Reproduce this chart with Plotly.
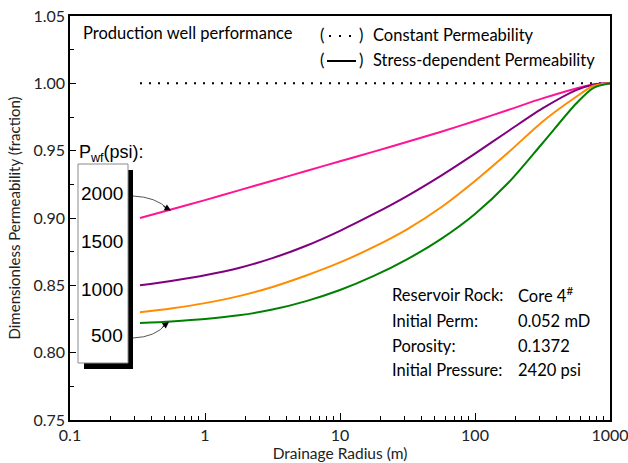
import plotly.graph_objects as go

# ---- data ----
radius = [0.33, 0.56, 1, 1.78, 3.16, 5.62, 10, 17.8, 31.6, 56.2, 100, 178, 316, 562, 750, 1000]
perm_2000 = [0.900, 0.9063, 0.9133, 0.9205, 0.9277, 0.9349, 0.9421, 0.9493, 0.9566, 0.9641,
             0.9720, 0.9804, 0.9888, 0.9962, 0.9992, 1.000]
perm_1000 = [0.850, 0.8533, 0.8575, 0.8629, 0.8702, 0.8794, 0.8905, 0.9030, 0.9165, 0.9315,
             0.9478, 0.9648, 0.9814, 0.9950, 0.9990, 1.000]
perm_700 = [0.830, 0.8328, 0.8368, 0.8420, 0.8488, 0.8573, 0.8670, 0.8785, 0.8918, 0.9080,
            0.9275, 0.9490, 0.9715, 0.9900, 0.9980, 1.000]
perm_500 = [0.822, 0.8232, 0.8250, 0.8277, 0.8320, 0.8383, 0.8465, 0.8570, 0.8695, 0.8845,
            0.9030, 0.9265, 0.9555, 0.9850, 0.9965, 1.000]
const_x = [0.33, 1000]
const_y = [1.0, 1.0]

series_names = ["2000 psi", "1000 psi", "700 psi", "500 psi"]
series_vals = [perm_2000, perm_1000, perm_700, perm_500]
series_colors = ["#FF1493", "#800080", "#FF8C00", "#008000"]

box_labels = ["2000", "1500", "1000", "500"]
info_keys = ["Reservoir Rock:", "Initial Perm:", "Porosity:", "Initial Pressure:"]
info_vals = ["Core 4<sup>#</sup>", "0.052 mD", "0.1372", "2420 psi"]

x_tickvals = [0.1, 1, 10, 100, 1000]
x_ticktext = ["0.1", "1", "10", "100", "1000"]
x_minor = [m * d for d in [0.1, 1, 10, 100] for m in range(2, 10)]
y_tickvals = [0.75, 0.80, 0.85, 0.90, 0.95, 1.00, 1.05]

FONT = "Lato"

fig = go.Figure()
fig.add_trace(go.Scatter(x=const_x, y=const_y, mode="lines",
                         line=dict(color="black", width=2, dash="2px,7px"),
                         showlegend=False))
for name, vals, col in zip(series_names, series_vals, series_colors):
    fig.add_trace(go.Scatter(x=radius, y=vals, mode="lines", name=name,
                             line=dict(color=col, width=2, shape="spline", smoothing=0.8),
                             showlegend=False))

L, R, T, B = 70, 610, 16, 420
def px(x):
    return (x - L) / (R - L)
def py(y):
    return (B - y) / (B - T)

shapes = []
# label box with shadow
shapes.append(dict(type="rect", xref="paper", yref="paper",
                   x0=px(84), x1=px(133), y0=py(369), y1=py(170),
                   fillcolor="black", line=dict(width=0)))
shapes.append(dict(type="rect", xref="paper", yref="paper",
                   x0=px(78), x1=px(128), y0=py(363), y1=py(164),
                   fillcolor="white", line=dict(color="#8a8a8a", width=1)))
# curved pointer lines
shapes.append(dict(type="path", xref="paper", yref="paper",
                   path=f"M {px(133)},{py(196)} Q {px(156)},{py(197)} {px(168)},{py(209)}",
                   line=dict(color="#555555", width=1)))
shapes.append(dict(type="path", xref="paper", yref="paper",
                   path=f"M {px(133)},{py(338)} Q {px(156)},{py(337)} {px(166)},{py(324)}",
                   line=dict(color="#555555", width=1)))
# legend samples
shapes.append(dict(type="line", xref="paper", yref="paper",
                   x0=px(329), x1=px(352), y0=py(36), y1=py(36),
                   line=dict(color="black", width=2, dash="2px,8px")))
shapes.append(dict(type="line", xref="paper", yref="paper",
                   x0=px(327), x1=px(356), y0=py(61), y1=py(61),
                   line=dict(color="black", width=2)))

annotations = []
for lab, yy in zip(box_labels, [194, 241.7, 289, 335.7]):
    annotations.append(dict(xref="paper", yref="paper", x=px(125), y=py(yy),
                            text=lab, showarrow=False, xanchor="right", yanchor="middle",
                            font=dict(family="Liberation Sans", size=19, color="black")))
annotations.append(dict(xref="paper", yref="paper", x=px(77), y=py(153),
                        text="P<sub>wf</sub>(psi):", showarrow=False,
                        xanchor="left", yanchor="middle",
                        font=dict(family="Liberation Sans", size=18, color="black")))
# arrowheads
annotations.append(dict(xref="paper", yref="paper", x=px(171), y=py(210.5), text="",
                        showarrow=True, ax=-9, ay=-5, arrowhead=2, arrowsize=1.3,
                        arrowwidth=1, arrowcolor="black"))
annotations.append(dict(xref="paper", yref="paper", x=px(169), y=py(322), text="",
                        showarrow=True, ax=-8, ay=6, arrowhead=2, arrowsize=1.3,
                        arrowwidth=1, arrowcolor="black"))
# legend-like texts
tf = dict(family=FONT, size=16.5, color="black")
annotations.append(dict(xref="paper", yref="paper", x=px(81), y=py(33),
                        text="Production well performance", showarrow=False,
                        xanchor="left", yanchor="middle", font=tf))
for yy in (35, 60):
    annotations.append(dict(xref="paper", yref="paper", x=px(318), y=py(yy),
                            text="(", showarrow=False, xanchor="left", yanchor="middle", font=tf))
    annotations.append(dict(xref="paper", yref="paper", x=px(357), y=py(yy),
                            text=")", showarrow=False, xanchor="left", yanchor="middle", font=tf))
annotations.append(dict(xref="paper", yref="paper", x=px(371), y=py(35),
                        text="Constant Permeability", showarrow=False,
                        xanchor="left", yanchor="middle", font=tf))
annotations.append(dict(xref="paper", yref="paper", x=px(371), y=py(60),
                        text="Stress-dependent Permeability", showarrow=False,
                        xanchor="left", yanchor="middle", font=tf))
for k, v, yy in zip(info_keys, info_vals, [295, 321, 346, 370]):
    annotations.append(dict(xref="paper", yref="paper", x=px(390), y=py(yy),
                            text=k, showarrow=False, xanchor="left", yanchor="middle", font=tf))
    annotations.append(dict(xref="paper", yref="paper", x=px(516), y=py(yy),
                            text=v, showarrow=False, xanchor="left", yanchor="middle", font=tf))

fig.update_layout(
    width=628, height=463,
    margin=dict(l=L, r=628 - R, t=T, b=463 - B),
    paper_bgcolor="white", plot_bgcolor="white",
    font=dict(family=FONT, size=16, color="#222222"),
    shapes=shapes, annotations=annotations,
    xaxis=dict(type="log", range=[-1, 3], tickvals=x_tickvals, ticktext=x_ticktext,
               ticks="inside", ticklen=7, tickwidth=1.2, tickcolor="black",
               minor=dict(ticks="inside", ticklen=4, tickvals=x_minor, tickcolor="black", tickwidth=1),
               showline=True, linecolor="black", linewidth=1.5, mirror=True,
               showgrid=False, zeroline=False, automargin=False,
               ticklabeloverflow="allow",
               title=dict(text="Drainage Radius (m)", standoff=0,
                          font=dict(family=FONT, size=15.5, color="#222222")),
               tickfont=dict(family=FONT, size=16, color="#222222")),
    yaxis=dict(range=[0.75, 1.05], tickvals=y_tickvals,
               ticktext=[f"{v:.2f}" for v in y_tickvals],
               ticks="inside", ticklen=6, tickwidth=1.2, tickcolor="black",
               minor=dict(ticks="inside", ticklen=4, dtick=0.025, tick0=0.75, tickcolor="black", tickwidth=1),
               showline=True, linecolor="black", linewidth=1.5, mirror=True,
               showgrid=False, zeroline=False, automargin=False,
               ticklabeloverflow="allow",
               title=dict(text="Dimensionless Permeability (fraction)", standoff=9,
                          font=dict(family=FONT, size=15, color="#222222")),
               tickfont=dict(family=FONT, size=16, color="#222222")),
)

fig.write_html("out.html")
